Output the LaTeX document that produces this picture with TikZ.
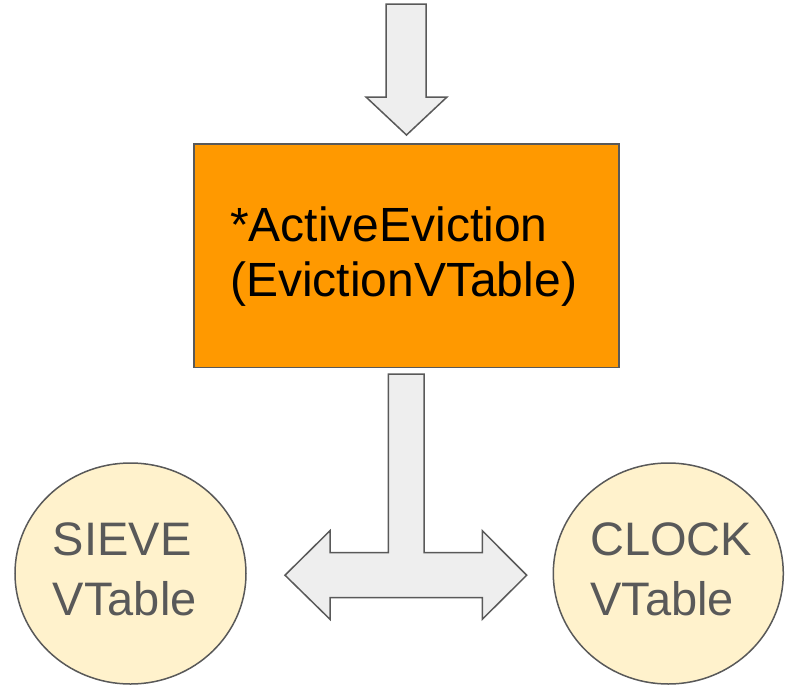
\documentclass[tikz,border=0pt]{standalone}
\usepackage{fontspec}
\setmainfont{Liberation Sans}
\usetikzlibrary{shapes.geometric}
\begin{document}
\begin{tikzpicture}[x=1pt,y=-1pt,
  blockarrow/.style={fill=arrowfill,draw=edgegray,line width=1.5pt,line join=miter},
  vtable/.style={ellipse,fill=circfill,draw=edgegray,line width=1.5pt,minimum width=231pt,minimum height=221pt,inner sep=0pt},
  vtext/.style={anchor=base west,inner sep=0pt,align=left,text=textgray,font=\fontsize{47}{60}\selectfont},
]
\definecolor{arrowfill}{HTML}{EEEEEE}
\definecolor{edgegray}{HTML}{595959}
\definecolor{circfill}{HTML}{FFF2CC}
\definecolor{textgray}{HTML}{595959}
\definecolor{boxorange}{HTML}{FF9900}
\useasboundingbox (0,0) rectangle (788,686);
% top arrow
\draw[blockarrow] (386,4) -- (426,4) -- (426,97) -- (447,97) -- (406.5,135) -- (366,97) -- (386,97) -- cycle;
% box
\node[draw=edgegray,line width=1.5pt,fill=boxorange,minimum width=425pt,minimum height=223.5pt,inner sep=0pt,anchor=north west] (box) at (193.3,143.3) {};
\node[anchor=base west,inner sep=0pt,align=left,font=\fontsize{48}{55}\selectfont,text=black] (boxtext) at (230,296.7) {*ActiveEviction\\(EvictionVTable)};
% T arrow
\draw[blockarrow] (388.3,374) -- (424,374) -- (424,552.7) -- (482.3,552.7) -- (482.3,530.7) -- (526.7,575.2) -- (482.3,619.3) -- (482.3,597.7)
  -- (330,597.7) -- (330,619.3) -- (285,575.2) -- (330,530.7) -- (330,552.7) -- (388.3,552.7) -- cycle;
% circles
\node[vtable] (sieve) at (130.5,573.5) {};
\node[vtext] (sievetext) at (52.7,615) {SIEVE\\VTable};
\node[vtable,minimum width=230pt] (clock) at (668.3,573.5) {};
\node[vtext] (clocktext) at (590,615) {CLOCK\\VTable};
\end{tikzpicture}
\end{document}
